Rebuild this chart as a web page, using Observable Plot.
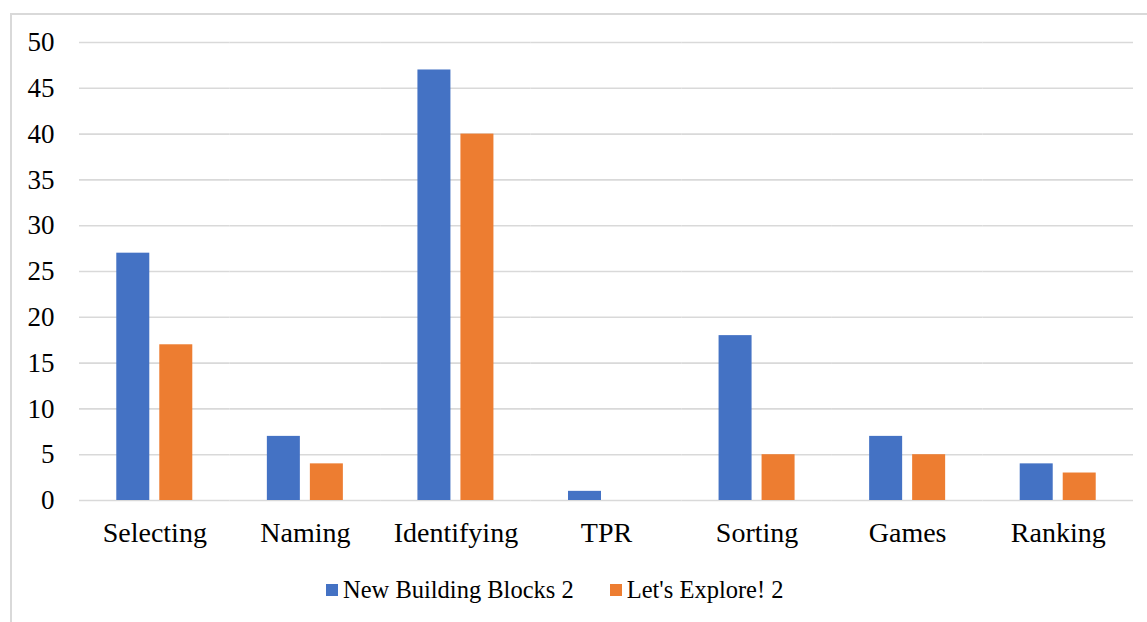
<!DOCTYPE html>
<html>
<head>
<meta charset="utf-8">
<script src="https://cdn.jsdelivr.net/npm/d3@7"></script>
<script src="https://cdn.jsdelivr.net/npm/@observablehq/plot@0.6"></script>
<style>
  html, body { margin: 0; padding: 0; background: #fff; overflow: hidden; }
  #frame { position: absolute; left: 10px; top: 13px; width: 1200px; height: 700px;
           border-left: 2px solid #d9d9d9; border-top: 2px solid #d9d9d9; box-sizing: border-box; }
  #chart { position: absolute; left: 0; top: 0; }
  #legend { position: absolute; left: 326px; top: 576px; display: flex; align-items: center;
            font-family: "Liberation Serif", serif; font-size: 24.5px; color: #000; }
  .item { display: flex; align-items: center; margin-right: 36px; }
  .sw { width: 12px; height: 12px; margin-right: 5px; }
</style>
</head>
<body>
<div id="frame"></div>
<div id="chart"></div>
<div id="legend"></div>
<script>
const categories = ["Selecting", "Naming", "Identifying", "TPR", "Sorting", "Games", "Ranking"];
const seriesNames = ["New Building Blocks 2", "Let's Explore! 2"];
const newBuildingBlocks = [27, 7, 47, 1, 18, 7, 4];
const letsExplore = [17, 4, 40, 0, 5, 5, 3];
const yTicks = [0, 5, 10, 15, 20, 25, 30, 35, 40, 45, 50];
const colors = ["#4472C4", "#ED7D31"];

const data = [];
categories.forEach((c, i) => {
  data.push({category: c, series: seriesNames[0], value: newBuildingBlocks[i]});
  data.push({category: c, series: seriesNames[1], value: letsExplore[i]});
});

const chart = Plot.plot({
  width: 1147,
  height: 560,
  marginTop: 42,
  marginBottom: 60,
  marginLeft: 79,
  marginRight: 14,
  style: {fontFamily: "Liberation Serif, serif", fontSize: "26px", color: "#000", background: "transparent"},
  fx: {domain: categories, paddingInner: 0, paddingOuter: 0, round: false, label: null},
  x: {domain: seriesNames, paddingInner: 10 / 43, paddingOuter: 0.867, round: false, axis: null},
  y: {domain: [0, 50], label: null},
  color: {domain: seriesNames, range: colors},
  marks: [
    Plot.ruleY(yTicks, {stroke: "#d9d9d9", strokeWidth: 1.6}),
    Plot.axisY({ticks: yTicks, tickSize: 0, tickPadding: 25, label: null, fontSize: 27, fontFamily: "Liberation Serif, serif"}),
    Plot.axisFx({anchor: "bottom", tickSize: 0, tickPadding: 22, label: null, fontSize: 28, fontFamily: "Liberation Serif, serif"}),
    Plot.barY(data, {fx: "category", x: "series", y: "value", fill: "series", inset: 0})
  ]
});
document.getElementById("chart").appendChild(chart);

const legend = document.getElementById("legend");
seriesNames.forEach((name, i) => {
  const item = document.createElement("div");
  item.className = "item";
  const sw = document.createElement("div");
  sw.className = "sw";
  sw.style.background = colors[i];
  const t = document.createElement("span");
  t.textContent = name;
  item.appendChild(sw);
  item.appendChild(t);
  legend.appendChild(item);
});
</script>
</body>
</html>
